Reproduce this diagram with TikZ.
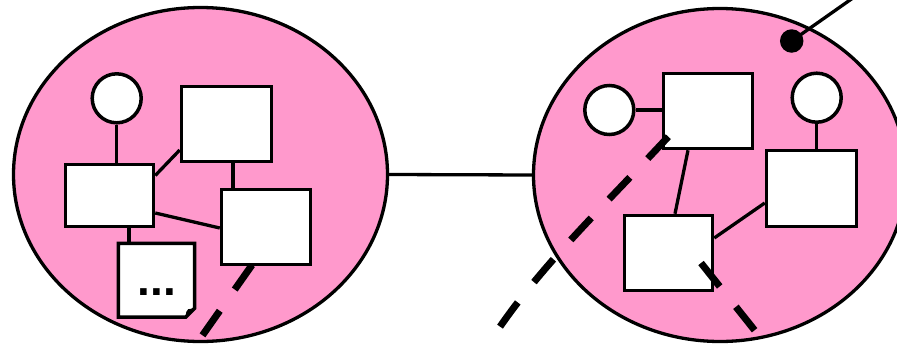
\documentclass[tikz,border=0pt]{standalone}
\usepackage{fontspec}
\setmainfont{Liberation Sans}
\usetikzlibrary{shapes.geometric}
\definecolor{grppink}{HTML}{FF99CC}
\begin{document}
\begin{tikzpicture}[x=1pt,y=-1pt,
  lw/.style={line width=3.5pt},
  grp/.style={ellipse, draw, line width=3.3pt, fill=grppink, inner sep=0pt},
  box/.style={rectangle, draw, lw, fill=white, inner sep=0pt, minimum width=90pt, minimum height=75pt},
  person/.style={circle, draw, lw, fill=white, inner sep=0pt, minimum size=49pt},
  link/.style={line width=3.3pt},
  dlink/.style={line width=7pt, dash pattern=on 30pt off 26pt},
]
\useasboundingbox (0,0) rectangle (897,348);
% groups
\node[grp, minimum width=374pt, minimum height=334pt] (gL) at (200.5,174.5) {};
\node[grp, minimum width=373pt, minimum height=333pt] (gR) at (720,175) {};
\draw[link] (gL.east) -- (gR.west);
% left group
\node[person] (pL) at (116.7,98.3) {};
\node[box] (A) at (226.5,124) {};
\node[box, minimum width=88pt, minimum height=62pt] (B) at (109.5,195.5) {};
\node[box, minimum width=89pt] (C) at (266,227) {};
\node[minimum width=76pt, minimum height=73.5pt, inner sep=0pt] (D) at (156.5,280.25) {};
\filldraw[lw, fill=white, line join=miter] (D.north west) -- (D.north east) -- ([yshift=9pt]D.south east) -- ([xshift=-9pt]D.south east) -- (D.south west) -- cycle;
\fill ([xshift=-9pt]D.south east) .. controls ([xshift=-8.5pt,yshift=6pt]D.south east) .. ([xshift=-6.5pt,yshift=8pt]D.south east) -- ([yshift=9pt]D.south east) -- cycle;
\node[anchor=base, font=\bfseries\fontsize{46}{46}\selectfont, inner sep=0pt] (dots) at (157,295) {...};
\draw[link] (pL.south) -- (pL.south |- B.north);
\draw[link] ([yshift=20pt]B.east) -- ([yshift=-26pt]A.west);
\draw[link] ([xshift=6.5pt]A.south) -- ([xshift=6.5pt]A.south |- C.north);
\draw[link] ([yshift=-17.5pt]B.east) -- ([yshift=-1pt]C.west);
\draw[link] ([xshift=19.5pt]B.south) -- ([xshift=19.5pt]B.south |- D.north);
% right group
\node[person] (p1) at (609.3,110) {};
\node[box, minimum width=89pt] (E) at (708,111) {};
\node[person] (p2) at (816.7,97.7) {};
\node[box, minimum height=76pt] (F) at (811.5,188.5) {};
\node[box, minimum width=88pt] (G) at (668.5,253) {};
\node[circle, fill, inner sep=0pt, minimum size=23.5pt] (dot) at (791.7,41) {};
\coordinate (out) at (855,-3.5);
\draw[link] (dot.center) -- (out);
\draw[link] (p1.east) -- (p1.east -| E.west);
\draw[link] (p2.south) -- (p2.south |- F.north);
\draw[link] ([xshift=-20pt]E.south) -- ([xshift=6.5pt]G.north);
\draw[link] ([yshift=15pt]G.east) -- ([yshift=-14.5pt]F.west);
% dashed links
\coordinate (dL1) at (252,265);
\coordinate (dL2) at (202,336);
\draw[dlink] (dL1) -- (dL2);
\coordinate (dR1) at (668.3,136.7);
\coordinate (dR2) at (500,326.7);
\draw[dlink] (dR1) .. controls (600,210) and (545,262) .. (dR2);
\coordinate (dS1) at (701,263);
\coordinate (dS2) at (756,332);
\draw[dlink] (dS1) -- (dS2);
\end{tikzpicture}
\end{document}
